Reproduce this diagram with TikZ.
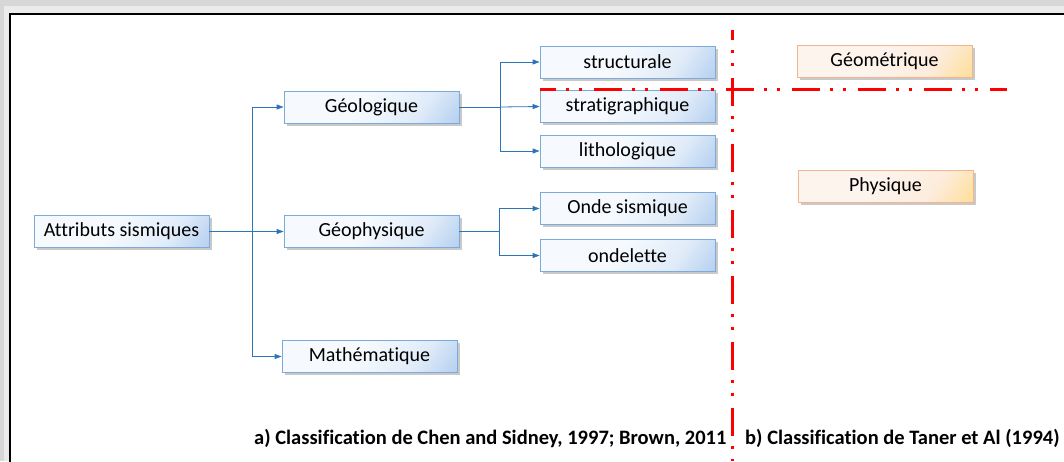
\documentclass[tikz,border=0pt]{standalone}
\usepackage{fontspec}
\setmainfont{Carlito}[Ligatures={NoCommon}]
\usetikzlibrary{shadows,arrows.meta}

\definecolor{linkblue}{RGB}{46,117,182}
\definecolor{boxedge}{RGB}{125,170,220}
\definecolor{boxpale}{RGB}{246,250,254}
\definecolor{boxmid}{RGB}{225,236,249}
\definecolor{boxdeep}{RGB}{140,182,230}
\definecolor{peachedge}{RGB}{244,180,140}
\definecolor{peachpale}{RGB}{253,244,238}
\definecolor{peachmid}{RGB}{253,236,220}
\definecolor{peachdeep}{RGB}{255,210,90}
\definecolor{framegray}{RGB}{215,215,215}

\pgfdeclarehorizontalshading{blueshade}{100bp}{color(0bp)=(boxpale); color(45bp)=(boxpale); color(68bp)=(boxmid); color(100bp)=(boxdeep)}
\pgfdeclarehorizontalshading{peachshade}{100bp}{color(0bp)=(peachpale); color(45bp)=(peachpale); color(68bp)=(peachmid); color(100bp)=(peachdeep)}

\tikzset{
  box/.style={draw=boxedge, line width=0.8pt, shading=blueshade, shading angle=-35,
    minimum width=175pt, minimum height=32pt, inner sep=0pt, font=\fontsize{20}{22}\selectfont,
    drop shadow={shadow xshift=2.5pt, shadow yshift=-2.5pt, opacity=0.35, fill=black!60}},
  pbox/.style={box, draw=peachedge, shading=peachshade},
  link/.style={draw=linkblue, line width=0.8pt},
  arr/.style={link, -{Triangle[length=7pt,width=5pt]}},
  divider/.style={draw=red, line width=3pt,
    dash pattern=on 28pt off 10pt on 3pt off 10pt on 3pt off 12pt},
  caption/.style={font=\bfseries\fontsize{20.5}{22}\selectfont, inner sep=0pt}
}

\begin{document}
\begin{tikzpicture}[x=1pt,y=-1pt]
  \useasboundingbox (0,0) rectangle (1064,461);
  % page background and frame
  \fill[framegray] (0,0) rectangle (1064,461);
  \fill[black!8] (4,6) rectangle (1064,461);
  \filldraw[fill=white, draw=black, line width=2pt] (10,14) rectangle (1070,470);

  % classification a)
  \node[box] (attr) at (121.5,231.5) {Attributs sismiques};
  \node[box] (geol) at (371.5,107) {Géologique};
  \node[box] (geoph) at (371.5,231.5) {Géophysique};
  \node[box] (math) at (369.5,356.5) {Mathématique};
  \node[box] (struct) at (627.5,62) {structurale};
  \node[box] (strat) at (627.5,106.5) {stratigraphique};
  \node[box] (litho) at (627.5,151) {lithologique};
  \node[box] (onde) at (627.5,208.5) {Onde sismique};
  \node[box] (ondel) at (627.5,255.5) {ondelette};

  % classification b)
  \node[pbox] (geom) at (884.5,61.5) {Géométrique};
  \node[pbox] (phys) at (885.5,186) {Physique};

  % branch points
  \coordinate (j1) at (252,231.5);
  \coordinate (j2) at (500,107);
  \coordinate (j3) at (499,231.5);

  \draw[arr] (attr.east) -- (geoph.west);
  \draw[link] (j1 |- geol.west) -- (j1 |- math.west);
  \draw[arr] (j1 |- geol.west) -- (geol.west);
  \draw[arr] (j1 |- math.west) -- (math.west);

  \draw[link] (geol.east) -- (j2);
  \draw[link] (j2 |- struct.west) -- (j2 |- litho.west);
  \draw[arr] (j2 |- struct.west) -- (struct.west);
  \draw[arr] (j2) -- (strat.west);
  \draw[arr] (j2 |- litho.west) -- (litho.west);

  \draw[link] (geoph.east) -- (j3);
  \draw[link] (j3 |- onde.west) -- (j3 |- ondel.west);
  \draw[arr] (j3 |- onde.west) -- (onde.west);
  \draw[arr] (j3 |- ondel.west) -- (ondel.west);

  % dividing lines
  \coordinate (vtop) at (732,30);
  \coordinate (vbot) at (732,461);
  \coordinate (hl) at (540,89);
  \coordinate (hr) at (1007,89);
  \draw[divider, dash phase=12pt] (hl) -- (hr);
  \draw[divider, dash phase=18pt] (vtop) -- (vbot);

  % captions
  \node[caption, anchor=base west] (capa) at (254,444) {a) Classification de Chen and Sidney, 1997; Brown, 2011};
  \node[caption, anchor=base west] (capb) at (745,444) {b) Classification de Taner et Al (1994)};
\end{tikzpicture}
\end{document}
